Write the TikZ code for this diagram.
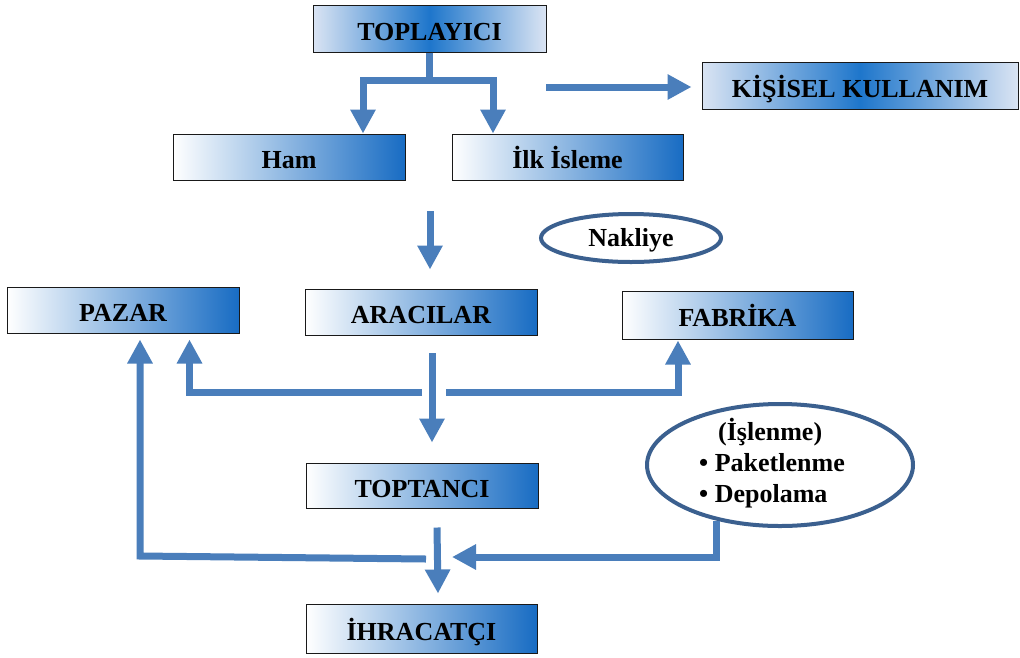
\documentclass[tikz,border=0pt]{standalone}
\usepackage{fontspec}
\setmainfont{Liberation Serif}
\usetikzlibrary{arrows.meta,shapes.geometric,calc}

\definecolor{flowblue}{RGB}{74,126,187}
\definecolor{rimblue}{RGB}{59,96,143}
\definecolor{deepblue}{RGB}{24,108,195}
\definecolor{paleblue}{RGB}{218,228,243}
\definecolor{centreblue}{RGB}{30,118,203}

\begin{document}
\begin{tikzpicture}[x=1pt,y=-1pt,
  every node/.style={font=\fontsize{26}{31}\selectfont\bfseries},
  boxbase/.style={draw=black!90, line width=1pt, inner sep=0pt,
    text height=23pt, text depth=0pt},
  box/.style={boxbase, left color=white, right color=deepblue},
  hubbox/.style={boxbase, left color=paleblue, right color=paleblue,
    middle color=centreblue},
  bubble/.style={ellipse, draw=rimblue, line width=4pt, inner sep=0pt, fill=white},
  bar/.style={draw=flowblue, line width=7pt},
  flow/.style={bar, -{Triangle[width=24pt,length=24pt]}}
]
\path[use as bounding box, fill=white] (0,0) rectangle (1020,657);

% boxes
\node[hubbox, minimum width=233pt, minimum height=47pt] (top) at (429.5,28.5) {TOPLAYICI};
\node[hubbox, minimum width=316pt, minimum height=47pt] (kis) at (860,85.5) {KİŞİSEL KULLANIM};
\node[box, minimum width=232pt, minimum height=46pt] (ham) at (289,157) {Ham};
\node[box, minimum width=231pt, minimum height=46pt] (ilk) at (567.5,157) {İlk İsleme};
\node[box, minimum width=232pt, minimum height=46pt] (pazar) at (123,310) {PAZAR};
\node[box, minimum width=232pt, minimum height=46pt] (aracilar) at (421,312) {ARACILAR};
\node[box, minimum width=231pt, minimum height=48pt] (fabrika) at (737.5,315) {FABRİKA};
\node[box, minimum width=232pt, minimum height=45pt] (toptanci) at (422,485.5) {TOPTANCI};
\node[box, minimum width=231pt, minimum height=49pt] (ihracatci) at (421.5,628.5) {İHRACATÇI};

% ellipses
\node[bubble, minimum width=180pt, minimum height=48pt, text height=17pt, text depth=0pt]
  (nakliye) at (631,238) {Nakliye};
\node[bubble, minimum width=266pt, minimum height=122pt] (islem) at (780,465) {};
\node[align=left, inner sep=0pt] (islemtext) at (772,463)
  {\hspace*{19pt}(İşlenme)\\• Paketlenme\\• Depolama};

% connectors
\coordinate (split) at (429.5,80);
\draw[bar] (top.south) -- (split);
\draw[flow] (split) -| ([xshift=74pt]ham.north);
\draw[flow] (split) -| ([xshift=-74.5pt]ilk.north);

\coordinate (kstart) at (546,87);
\coordinate (kend) at ($(kis.west)+(-10,1.5)$);
\draw[flow] (kstart) -- (kend);

\coordinate (midtop) at (430,211);
\coordinate (midend) at ($(aracilar.north)+(9,-19)$);
\draw[flow] (midtop) -- (midend);

\coordinate (downstart) at (432,353);
\draw[flow] (downstart) -- ($(toptanci.north)+(10,-20)$);
\coordinate (lgap) at (422,392);
\coordinate (rgap) at (446,392);
\draw[flow] (lgap) -| ($(pazar.south)+(66.5,6)$);
\draw[flow] (rgap) -| ($(fabrika.south)+(-59.5,1)$);

\draw[flow] ($(toptanci.south)+(15,19)$) -- ($(ihracatci.north)+(16.5,-10)$);

\coordinate (loopstart) at (426,559);
\coordinate (loopcorner) at (140,556);
\draw[flow] (loopstart) -- (loopcorner) -- ($(pazar.south)+(17,6)$);

\coordinate (joinend) at (452,557);
\draw[flow] (islem.221) |- (joinend);
\end{tikzpicture}
\end{document}
